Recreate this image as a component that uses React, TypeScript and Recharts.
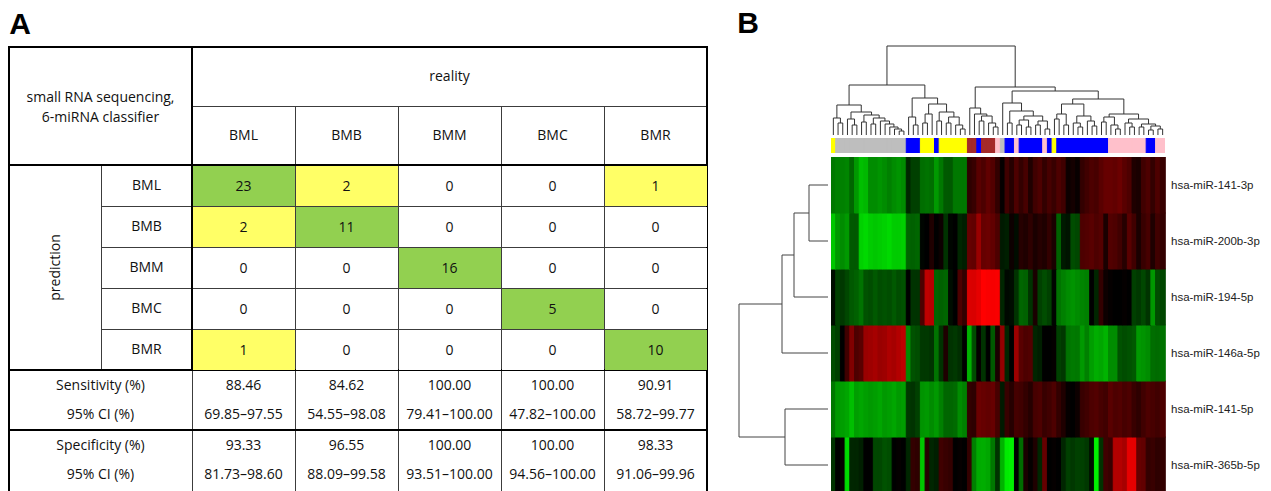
import React from 'react';
import {
  ComposedChart, BarChart, Bar, Cell, Line, Scatter, XAxis, YAxis,
  ReferenceArea, ReferenceLine,
} from 'recharts';

// ---------------- Panel A data ----------------
const classes = ['BML', 'BMB', 'BMM', 'BMC', 'BMR'];
const confusion = [
  [23, 2, 0, 0, 1],
  [2, 11, 0, 0, 0],
  [0, 0, 16, 0, 0],
  [0, 0, 0, 5, 0],
  [1, 0, 0, 0, 10],
];
const sensitivity = ['88.46', '84.62', '100.00', '100.00', '90.91'];
const sensitivityCI = ['69.85–97.55', '54.55–98.08', '79.41–100.00', '47.82–100.00', '58.72–99.77'];
const specificity = ['93.33', '96.55', '100.00', '100.00', '98.33'];
const specificityCI = ['81.73–98.60', '88.09–99.58', '93.51–100.00', '94.56–100.00', '91.06–99.96'];
const cornerText = ['small RNA sequencing,', '6-miRNA classifier'];
const realityLabel = 'reality';
const predictionLabel = 'prediction';
const statLabels = ['Sensitivity (%)', '95% CI (%)', 'Specificity (%)', '95% CI (%)'];

// ---------------- Panel B data ----------------
const mirnas = ['hsa-miR-141-3p', 'hsa-miR-200b-3p', 'hsa-miR-194-5p', 'hsa-miR-146a-5p', 'hsa-miR-141-5p', 'hsa-miR-365b-5p'];

const heat141_3p = [
  -0.47, -0.5, -0.5, -0.52, -0.4, -0.6, -0.75, -0.72, -0.55, -0.55, -0.58, -0.55, -0.5, -0.55, -0.58, -0.55,
  -0.15, -0.25, -0.25, -0.43, -0.45, -0.43, -0.6, -0.47, -0.35, -0.35, -0.47, -0.47, -0.47,
  0.18, 0.22, 0.35, 0.3, 0.38, 0.32, 0.2,
  0.02,
  0.25, 0.15, 0.3, 0.2, 0.28, 0.12, 0.25, 0.3, 0.2, 0.28, 0.22, 0.3, 0.25,
  0.05, 0.08, 0.03,
  0.2, 0.25, 0.3, 0.28, 0.35, 0.4, 0.4, 0.38, 0.42, 0.35, 0.3, 0.12, 0.1, 0.25, 0.3, 0.2, 0.3, 0.22,
];
const heat200b_3p = [
  -0.78, -0.6, -0.55, -0.6, -0.35, -0.35, -0.82, -0.85, -0.8, -0.78, -0.8, -0.82, -0.85, -0.8, -0.8, -0.82,
  -0.4, -0.38, -0.4, -0.02, 0.0, 0.12, 0.0, 0.05, -0.2, -0.02, 0.0, -0.15, -0.12,
  0.4, 0.38, 0.6, 0.4, 0.42, 0.38, 0.3,
  -0.1, -0.12, 0.05, -0.05, 0.15, 0.12, 0.18, 0.1, 0.15, 0.12, 0.2, 0.1,
  -0.38,
  -0.1, -0.08, -0.3, -0.28,
  0.3, 0.32, 0.35, 0.3, 0.33, 0.1,
  0.32, 0.3, 0.25, 0.15, 0.35, 0.25, 0.1, 0.22, 0.28, 0.12, 0.25, 0.2,
];
const heat194_5p = [
  -0.05, -0.25, -0.22, -0.28, -0.35, -0.38, -0.45, -0.32, -0.3, -0.35, -0.3, -0.32, -0.3, -0.35, -0.3, -0.32,
  0.0, -0.2, -0.2, 0.3, 0.75, 0.72, -0.4, -0.38, -0.4, -0.05, 0.0, 0.3, 0.2,
  0.86, 0.85, 0.9, 1.0, 0.98, 0.97, 0.98,
  -0.15, -0.03, -0.05, -0.2, -0.4, -0.38, -0.2, 0.1, -0.25, -0.3, -0.25, -0.02, -0.45,
  -0.5, -0.55, -0.58, -0.55, -0.52, -0.5, 0.0, -0.15, 0.2, 0.05,
  0.02, 0.0, 0.0, 0.02, 0.0, -0.25, -0.22, -0.28, -0.2, -0.6, -0.3, -0.28,
];
const heat146a_5p = [
  -0.3, -0.25, 0.0, 0.25, 0.5, 0.3, 0.35, 0.6, 0.62, 0.65, 0.6, 0.62, 0.68, 0.65, 0.7, 0.75,
  -0.55, -0.32, -0.3, -0.22, -0.22, -0.2, -0.45, -0.2, 0.12, -0.2, -0.22, -0.18, 0.0,
  -0.7, -0.3, 0.02, -0.2, 0.0, -0.35, 0.1,
  0.58, -0.15, 0.0, 0.62, 0.35, 0.3, 0.32, -0.15, -0.12, 0.0, 0.0, 0.02, -0.25, -0.22,
  -0.45, -0.48, -0.47, -0.6, -0.5, -0.62, -0.68, -0.65, -0.7, -0.55, -0.55, -0.32, -0.3, -0.32, -0.35, -0.6, -0.58, -0.55, -0.43, -0.42, -0.45,
];
const heat141_5p = [
  -0.47, -0.6, -0.62, -0.65, -0.75, -0.62, -0.65, -0.62, -0.6, -0.62, -0.65, -0.6, -0.62, -0.65, -0.6, -0.62,
  -0.22, -0.2, -0.25, -0.58, -0.6, -0.55, -0.6, -0.5, -0.4, -0.4, -0.42, -0.55, -0.5,
  0.2, 0.18, 0.42, 0.4, 0.38, 0.4, 0.28,
  -0.1, 0.22, 0.15, 0.27, 0.25, 0.2, 0.15, 0.28, 0.3, 0.22, 0.25, 0.3, 0.2, 0.12,
  0.02, 0.0, 0.05,
  0.22, 0.25, 0.3, 0.32, 0.28, 0.25, 0.35, 0.3, 0.32, 0.28, 0.3, 0.22, 0.18, 0.25, 0.3, 0.28, 0.25, 0.3,
];
const heat365b_5p = [
  -0.2, 0.0, 0.02, -0.86, -0.15, -0.15, -0.12, 0.0, 0.0, -0.28, -0.28, -0.32, -0.3, 0.0, 0.02, 0.0,
  -0.15, 0.2, 0.18, -0.78, 0.15, -0.15, -0.12, 0.25, 0.22, 0.2, 0.0, 0.02, 0.0,
  0.2, -0.5, -0.67, -0.68, -0.65, -0.47, -0.2,
  -0.7, -0.92, -0.95, 0.0, -0.42, 0.1, 0.02, 0.12, -0.15, 0.4, 0.0, 0.02, 0.0, -0.15,
  -0.25, -0.22, -0.25, -0.25, -0.22, -0.05, -0.95, -0.2, 0.25, 0.22, 0.7, 0.7, 0.65, 0.9, 0.9, 0.4, 0.38, 0.2, 0.22, 0.18, 0.2,
];

// sample class of each heatmap column (left to right)
const sampleGroups = [
  'BMR',
  'BMM', 'BMM', 'BMM', 'BMM', 'BMM', 'BMM', 'BMM', 'BMM', 'BMM', 'BMM', 'BMM', 'BMM', 'BMM', 'BMM', 'BMM',
  'BML', 'BML', 'BML',
  'BMR', 'BMR', 'BMR',
  'BML',
  'BMR', 'BMR', 'BMR', 'BMR', 'BMR', 'BMR',
  'BMC', 'BMC',
  'BML',
  'BMC', 'BMC', 'BMC',
  'BMB',
  'BMM',
  'BML', 'BML',
  'BMB',
  'BML', 'BML', 'BML', 'BML', 'BML',
  'BMB',
  'BML',
  'BMR',
  'BML', 'BML', 'BML', 'BML', 'BML', 'BML', 'BML', 'BML', 'BML', 'BML', 'BML',
  'BMB', 'BMB', 'BMB', 'BMB', 'BMB', 'BMB', 'BMB', 'BMB',
  'BML', 'BML',
  'BMB', 'BMB',
];
const groupColors: Record<string, string> = {
  BML: '#0000FF', BMB: '#FFC0CB', BMM: '#BEBEBE', BMC: '#A52A2A', BMR: '#FFFF00',
};

// dendrograms: [height, left, right]; leaves are row / column indices
const rowTree: any = [89, [46, [34, [19, 0, 1], 2], 3], [43, 4, 5]];
const colTree: any = [89,
  [50,
    [30,
      [17, 0, [12, 1, 2]],
      [23, [16, 3, [10, 4, 5]], [20, [13, 6, 7], [17, [11, 8, 9], [14, 10, [11, 11, [8, 12, [6, 13, [4, 14, 15]]]]]]]]],
    [37,
      [18, 16, [10, 17, 18]],
      [31, [21, [12, 19, 20], 21], [23, [14, 22, 23], [18, [12, 24, 25], [10, 26, [6, 27, 28]]]]]]],
  [48,
    [27, 29, [21, 30, [19, [14, 31, 32], [12, 33, [8, 34, 35]]]]],
    [44,
      [32, 36, [24, [12, 37, 38], [19, [15, [10, 39, 40], [8, 41, 42]], [14, [10, 43, 44], [6, 45, 46]]]]],
      [36,
        [31, [21, [16, 47, 48], [10, 49, 50]], [19, [12, 51, [8, 52, 53]], [14, 54, [9, 55, 56]]]],
        [21, [18, [13, 57, 58], [10, 59, [6, 60, 61]]], [16, [12, 62, [8, 63, 64]], [11, [8, 65, 66], [9, [5, 67, 68], [6, 69, 70]]]]]]]]];

// ---------------- layout / style ----------------
const W = 1271;
const H = 491;
const TABLE_FONT = "'Open Sans', 'Noto Sans', sans-serif";
const LABEL_FONT = "'Liberation Sans', Arial, sans-serif";
const GREEN = '#92D050';
const YELLOW = '#FFFF66';
const TX0 = 9, TXS = 101, TXD = 192, CW = 103, TXE = TXD + 5 * CW;
const TY0 = 47, TYH = 106, TYB = 165, RH = 41, TYS = TYB + 5 * RH, TYP = TYS + 60;
const statRowY = [385, 414, 445, 474];

const heatRows = [heat141_3p, heat200b_3p, heat194_5p, heat146a_5p, heat141_5p, heat365b_5p];
const NCOL = sampleGroups.length;

const heatColor = (v: number) => {
  const a = Math.min(1, Math.abs(v));
  return v >= 0 ? `rgb(${Math.round(255 * a)},0,0)` : `rgb(0,${Math.round(255 * a)},0)`;
};

type Pt = { pos: number; h: number };
function walk(t: any, out: Pt[][]): Pt {
  if (typeof t === 'number') return { pos: t, h: 0 };
  const [h, a, b] = t;
  const A = walk(a, out);
  const B = walk(b, out);
  out.push([{ pos: A.pos, h: A.h }, { pos: A.pos, h }, { pos: B.pos, h }, { pos: B.pos, h: B.h }]);
  return { pos: (A.pos + B.pos) / 2, h };
}
const colSegs: Pt[][] = [];
walk(colTree, colSegs);
const rowSegs: Pt[][] = [];
walk(rowTree, rowSegs);

const heatData = sampleGroups.map((g, i) => ({ id: i, g, r0: 1, r1: 1, r2: 1, r3: 1, r4: 1, r5: 1, one: 1 }));

const colCenter = (c: number) => TXD + CW * (c + 0.5);
const rowCenter = (r: number) => TYB + RH * (r + 0.5);

const matrixPoints = confusion.flatMap((row, r) =>
  row.map((v, c) => ({ x: colCenter(c), y: rowCenter(r), v, diag: r === c })),
);

const MatrixCell = (p: any) => {
  const { cx, cy, payload } = p;
  const fill = payload.diag ? GREEN : payload.v > 0 ? YELLOW : '#FFFFFF';
  return (
    <g>
      <rect x={cx - CW / 2 + 1} y={cy - RH / 2 + 1} width={CW - 1} height={RH - 1} fill={fill} />
      <text x={cx} y={cy} dy="0.36em" textAnchor="middle" fontSize={14} fontFamily={TABLE_FONT} fill="#111">
        {String(payload.v)}
      </text>
    </g>
  );
};

const txt = (key: string, cx: number, cy: number, value: string, extra: any = {}) => (
  <ReferenceArea
    key={key}
    x1={cx - 1} x2={cx + 1} y1={cy - 1} y2={cy + 1}
    fill="none" fillOpacity={0} stroke="none" ifOverflow="visible"
    label={{ value, position: 'center', fill: '#111', fontSize: 14, fontFamily: TABLE_FONT, ...extra }}
  />
);

const seg = (key: string, x1: number, y1: number, x2: number, y2: number, thick: boolean) => (
  <ReferenceLine
    key={key}
    segment={[{ x: x1, y: y1 }, { x: x2, y: y2 }]}
    stroke={thick ? '#000' : '#3c3c3c'}
    strokeWidth={thick ? 2 : 1}
    ifOverflow="visible"
  />
);

function TableFrame() {
  const lines: any[] = [];
  // thin lines
  lines.push(seg('h-hdr', TXD, TYH + 0.5, TXE, TYH + 0.5, false));
  lines.push(seg('v-split', TXS + 0.5, TYB, TXS + 0.5, TYS, false));
  for (let r = 1; r < 5; r++) lines.push(seg('h-row' + r, TXS, TYB + RH * r + 0.5, TXE, TYB + RH * r + 0.5, false));
  for (let c = 1; c < 5; c++) lines.push(seg('v-col' + c, TXD + CW * c + 0.5, TYH, TXD + CW * c + 0.5, H, false));
  lines.push(seg('v-stat', TXD + 0.5, TYS, TXD + 0.5, H, false));
  // thick lines
  lines.push(seg('t-top', TX0 - 1, TY0, TXE + 1, TY0, true));
  lines.push(seg('t-left', TX0, TY0, TX0, H, true));
  lines.push(seg('t-right', TXE, TY0, TXE, H, true));
  lines.push(seg('t-body', TX0, TYB, TXE, TYB, true));
  lines.push(seg('t-stat', TX0, TYS, TXE, TYS, true));
  lines.push(seg('t-spec', TX0, TYP, TXE, TYP, true));
  lines.push(seg('t-corner', TXD, TY0, TXD, TYS, true));

  const texts: any[] = [];
  texts.push(txt('panelA', 20, 23, 'A', { fontSize: 30, fontWeight: 'bold', fontFamily: LABEL_FONT, fill: '#000' }));
  texts.push(txt('panelB', 748, 22, 'B', { fontSize: 30, fontWeight: 'bold', fontFamily: LABEL_FONT, fill: '#000' }));
  texts.push(txt('reality', (TXD + TXE) / 2, (TY0 + TYH) / 2, realityLabel));
  cornerText.forEach((t, i) => texts.push(txt('corner' + i, (TX0 + TXD) / 2, 97 + 20 * i, t)));
  classes.forEach((c, i) => texts.push(txt('hdr' + i, colCenter(i), (TYH + TYB) / 2, c)));
  classes.forEach((c, i) => texts.push(txt('rowl' + i, (TXS + TXD) / 2, rowCenter(i), c)));
  texts.push(txt('pred', (TX0 + TXS) / 2, (TYB + TYS) / 2, predictionLabel, { angle: -90 }));
  statLabels.forEach((s, i) => texts.push(txt('stl' + i, (TX0 + TXD) / 2, statRowY[i], s)));
  [sensitivity, sensitivityCI, specificity, specificityCI].forEach((arr, j) =>
    arr.forEach((v, i) => texts.push(txt(`st${j}-${i}`, colCenter(i), statRowY[j], v))),
  );

  return (
    <ComposedChart width={W} height={H} margin={{ top: 0, right: 0, bottom: 0, left: 0 }}>
      <XAxis type="number" dataKey="x" domain={[0, W]} hide allowDataOverflow />
      <YAxis type="number" dataKey="y" domain={[0, H]} reversed hide allowDataOverflow />
      <Scatter data={matrixPoints} shape={MatrixCell} isAnimationActive={false} />
      {lines}
      {texts}
    </ComposedChart>
  );
}

function ColDendro() {
  return (
    <ComposedChart width={334} height={90} margin={{ top: 0, right: 0, bottom: 0, left: 0 }}>
      <XAxis type="number" dataKey="x" domain={[-0.5, NCOL - 0.5]} hide allowDataOverflow />
      <YAxis type="number" domain={[0, 90]} hide allowDataOverflow />
      {colSegs.map((s, i) => (
        <Line
          key={'c' + i}
          data={s.map((p) => ({ x: p.pos, h: p.h }))}
          dataKey="h"
          type="linear"
          stroke="#333"
          strokeWidth={1}
          dot={false}
          activeDot={false}
          isAnimationActive={false}
        />
      ))}
    </ComposedChart>
  );
}

function RowDendro() {
  return (
    <ComposedChart width={90} height={336} margin={{ top: 0, right: 0, bottom: 0, left: 0 }}>
      <XAxis type="number" dataKey="h" domain={[0, 90]} reversed hide allowDataOverflow />
      <YAxis type="number" domain={[0, 6]} reversed hide allowDataOverflow />
      {rowSegs.map((s, i) => (
        <Line
          key={'r' + i}
          data={s.map((p) => ({ h: p.h, r: p.pos + 0.5 }))}
          dataKey="r"
          type="linear"
          stroke="#444"
          strokeWidth={1}
          dot={false}
          activeDot={false}
          isAnimationActive={false}
        />
      ))}
    </ComposedChart>
  );
}

function GroupBar() {
  return (
    <BarChart width={334} height={15} data={heatData} margin={{ top: 0, right: 0, bottom: 0, left: 0 }}
      barCategoryGap={0} barGap={0}>
      <XAxis dataKey="id" hide />
      <YAxis type="number" domain={[0, 1]} hide />
      <Bar dataKey="one" isAnimationActive={false}>
        {heatData.map((d, i) => (
          <Cell key={i} fill={groupColors[d.g]} stroke={groupColors[d.g]} strokeWidth={1} />
        ))}
      </Bar>
    </BarChart>
  );
}

function Heatmap() {
  const order = [5, 4, 3, 2, 1, 0];
  return (
    <BarChart width={334 + 100} height={336} data={heatData} margin={{ top: 0, right: 0, bottom: 0, left: 0 }}
      barCategoryGap={0} barGap={0}>
      <XAxis dataKey="id" hide />
      <YAxis
        type="number"
        orientation="right"
        width={100}
        domain={[0, 6]}
        ticks={[0.5, 1.5, 2.5, 3.5, 4.5, 5.5]}
        interval={0}
        tickFormatter={(v: number) => mirnas[Math.round(5.5 - v)]}
        axisLine={false}
        tickLine={false}
        tickSize={0}
        tickMargin={6}
        tick={{ fill: '#222', fontSize: 11.5, fontFamily: LABEL_FONT }}
      />
      {order.map((r) => (
        <Bar key={'b' + r} dataKey={'r' + r} stackId="s" isAnimationActive={false}>
          {heatRows[r].map((v, i) => (
            <Cell key={i} fill={heatColor(v)} stroke={heatColor(v)} strokeWidth={1} />
          ))}
        </Bar>
      ))}
    </BarChart>
  );
}

export default function App() {
  const abs = (left: number, top: number): React.CSSProperties => ({ position: 'absolute', left, top });
  return (
    <div style={{ position: 'absolute', left: 0, top: 0, width: W, height: H, overflow: 'hidden', background: '#fff', fontFamily: TABLE_FONT }}>
      <div style={abs(0, 0)}><TableFrame /></div>
      <div style={abs(831, 45)}><ColDendro /></div>
      <div style={abs(831, 138)}><GroupBar /></div>
      <div style={abs(831, 157)}><Heatmap /></div>
      <div style={abs(738, 157)}><RowDendro /></div>
    </div>
  );
}
